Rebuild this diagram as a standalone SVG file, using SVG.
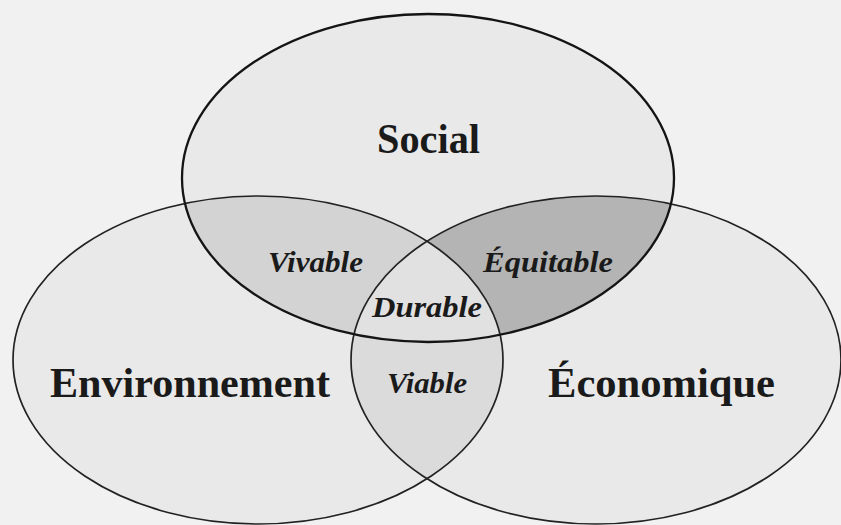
<svg xmlns="http://www.w3.org/2000/svg" width="841" height="525" viewBox="0 0 841 525">
  <style>
    .base { fill: #e9e9e9; }
    .outline { fill: none; stroke: #222; stroke-width: 1.7; }
    .outline-s { fill: none; stroke: #141414; stroke-width: 2.3; }
    .big { font-family: "Liberation Serif", "Times New Roman", serif; font-weight: bold; font-size: 42px; fill: #1a1a1a; text-anchor: start; }
    .small { font-family: "Liberation Serif", "Times New Roman", serif; font-weight: bold; font-style: italic; font-size: 30px; fill: #1a1a1a; text-anchor: start; }
  </style>
  <defs>
    <clipPath id="clipSocial"><ellipse cx="428" cy="178" rx="246" ry="164"/></clipPath>
    <clipPath id="clipEnv"><ellipse cx="258" cy="360" rx="245" ry="164"/></clipPath>
  </defs>
  <rect x="0" y="0" width="841" height="525" fill="#f1f1f1"/>

  <g id="fills">
    <ellipse class="base" cx="428" cy="178" rx="246" ry="164"/>
    <ellipse class="base" cx="258" cy="360" rx="245" ry="164"/>
    <ellipse class="base" cx="596" cy="360" rx="245" ry="164"/>
  </g>

  <g id="vivable">
    <ellipse cx="258" cy="360" rx="245" ry="164" fill="#d3d3d3" clip-path="url(#clipSocial)"/>
    <text class="small" x="268" y="272" textLength="95" lengthAdjust="spacingAndGlyphs">Vivable</text>
  </g>
  <g id="equitable">
    <ellipse cx="596" cy="360" rx="245" ry="164" fill="#b4b4b4" clip-path="url(#clipSocial)"/>
    <text class="small" x="483" y="272" textLength="130" lengthAdjust="spacingAndGlyphs">Équitable</text>
  </g>
  <g id="viable">
    <ellipse cx="596" cy="360" rx="245" ry="164" fill="#dbdbdb" clip-path="url(#clipEnv)"/>
  </g>
  <g id="durable">
    <g clip-path="url(#clipSocial)">
      <ellipse cx="596" cy="360" rx="245" ry="164" fill="#e1e1e1" clip-path="url(#clipEnv)"/>
    </g>
  </g>

  <g id="environnement">
    <ellipse class="outline" cx="258" cy="360" rx="245" ry="164"/>
    <text class="big" x="50" y="397" textLength="280" lengthAdjust="spacingAndGlyphs">Environnement</text>
  </g>
  <g id="economique">
    <ellipse class="outline" cx="596" cy="360" rx="245" ry="164"/>
    <text class="big" x="548" y="397" textLength="227" lengthAdjust="spacingAndGlyphs">Économique</text>
  </g>
  <g id="social">
    <ellipse class="outline-s" cx="428" cy="178" rx="246" ry="164"/>
    <text class="big" x="377" y="153" textLength="103" lengthAdjust="spacingAndGlyphs">Social</text>
  </g>

  <g id="labels">
    <text class="small" x="372" y="317" textLength="110" lengthAdjust="spacingAndGlyphs">Durable</text>
    <text class="small" x="387" y="393" textLength="80" lengthAdjust="spacingAndGlyphs">Viable</text>
  </g>
</svg>
